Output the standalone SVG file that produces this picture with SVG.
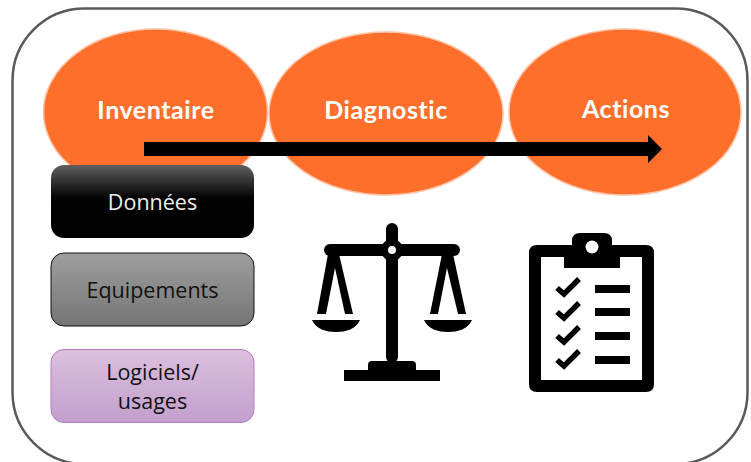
<svg xmlns="http://www.w3.org/2000/svg" width="751" height="462" viewBox="0 0 751 462">
<style>
.el{fill:#ff6f2c;stroke:#ffc4a6;stroke-width:1.5}
.t{font-family:"Lato","Liberation Sans",sans-serif;font-weight:700;font-size:25px;letter-spacing:.55px;fill:#fff;text-anchor:middle}
.b{font-family:"Open Sans","Noto Sans",sans-serif;font-size:21.5px;text-anchor:middle;fill:#111}
.k{fill:#000}
.chk{fill:none;stroke:#000;stroke-width:5.5}
</style>
<defs>
<linearGradient id="g1" x1="0" y1="0" x2="0" y2="1"><stop offset="0" stop-color="#606060"/><stop offset=".45" stop-color="#030303"/><stop offset="1" stop-color="#000"/></linearGradient>
<linearGradient id="g2" x1="0" y1="0" x2="0" y2="1"><stop offset="0" stop-color="#9e9e9e"/><stop offset="1" stop-color="#757575"/></linearGradient>
<linearGradient id="g3" x1="0" y1="0" x2="0" y2="1"><stop offset="0" stop-color="#dcbfde"/><stop offset="1" stop-color="#c39fcd"/></linearGradient>
</defs>
<rect id="frame" x="12.5" y="8.5" width="735" height="455.500" rx="72" ry="72" fill="#fff" stroke="#595959" stroke-width="2.5"/>
<g id="inventaire"><ellipse class="el" cx="155.5" cy="112" rx="112" ry="83"/><text class="t" x="156" y="119">Inventaire</text></g>
<g id="diagnostic"><ellipse class="el" cx="386" cy="113.500" rx="117" ry="81.500"/><text class="t" x="386" y="118.500">Diagnostic</text></g>
<g id="actions"><ellipse class="el" cx="625" cy="112" rx="116" ry="83"/><text class="t" x="626" y="117.500">Actions</text></g>
<g id="connectors"><path class="k" d="M144 142H648V135L662 149L648 163V156H144Z"/></g>
<g id="donnees"><rect x="51" y="165" width="203" height="73" rx="13" fill="url(#g1)"/><text class="b" x="152.500" y="210" style="fill:#eee">Données</text></g>
<g id="equipements"><rect x="51" y="253" width="203" height="73" rx="13" fill="url(#g2)" stroke="#111" stroke-width="1"/><text class="b" x="152.500" y="298">Equipements</text></g>
<g id="logiciels"><rect x="51" y="349.500" width="203" height="73" rx="13" fill="url(#g3)" stroke="#b57dbe" stroke-width="1"/><text class="b" x="152.500" y="380">Logiciels/</text><text class="b" x="152.500" y="409">usages</text></g>
<g id="balance">
<rect class="k" x="386" y="223" width="12" height="140" rx="6"/>
<rect class="k" x="324" y="244" width="136" height="12" rx="6"/>
<circle class="k" cx="392" cy="250" r="11"/><circle cx="392" cy="250" r="4" fill="#fff"/>
<path class="k" d="M328 254H339L353 314H345L335 268L326 314H317Z"/>
<path class="k" d="M442 254H453L466 314H458L447 268L438 314H430Z"/>
<path class="k" d="M312 320H360C356 329 346 332 336 332C326 332 316 329 312 320Z"/>
<path class="k" d="M424 320H472C468 329 458 332 448 332C438 332 428 329 424 320Z"/>
<path class="k" d="M344 370H368V365Q368 361 372 361H412Q416 361 416 365V370H440V381H344Z"/>
</g>
<g id="clipboard">
<path class="k" fill-rule="evenodd" d="M537 245H572V241Q572 233 580 233H604Q612 233 612 241V245H646Q654 245 654 253V384Q654 392 646 392H537Q529 392 529 384V253Q529 245 537 245ZM541 257V380H642V257H620V268H564V257Z"/>
<circle cx="592" cy="247" r="6.500" fill="#fff"/>
<path class="chk" d="M557 288L564 294L579 279"/>
<path class="chk" d="M557 312L564 318L579 303"/>
<path class="chk" d="M557 336L564 342L579 327"/>
<path class="chk" d="M557 360L564 366L579 351"/>
<rect class="k" x="595" y="285" width="35" height="8"/>
<rect class="k" x="595" y="308" width="35" height="8"/>
<rect class="k" x="595" y="332" width="35" height="8"/>
<rect class="k" x="595" y="356" width="35" height="8"/>
</g>
</svg>
